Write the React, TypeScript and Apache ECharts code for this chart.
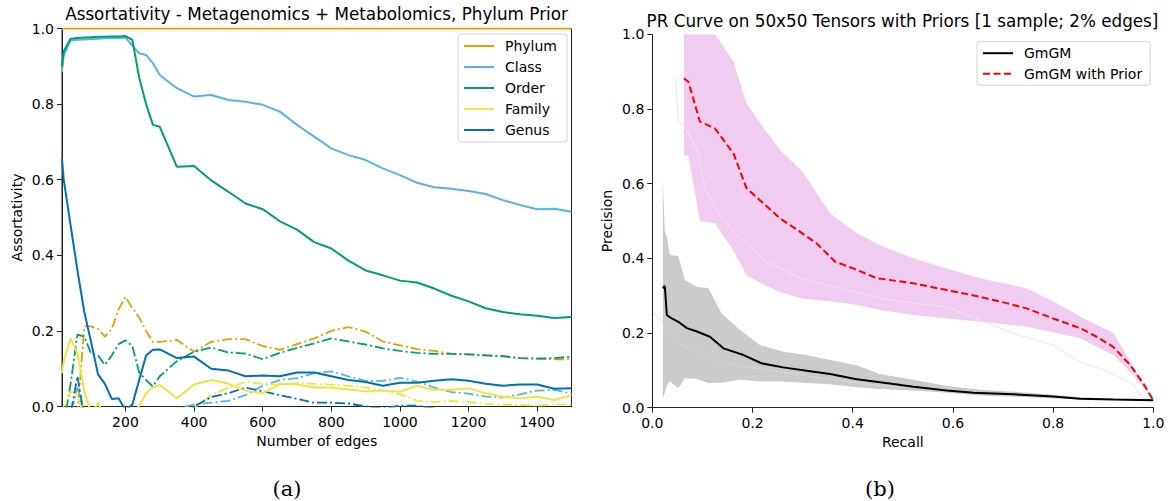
import React, { useEffect, useRef } from 'react';
import * as echarts from 'echarts';

// ---------- Left panel: assortativity vs number of edges ----------
const edges = [15, 20, 40, 60, 80, 100, 120, 140, 160, 180, 200, 220, 240, 260, 280, 300, 350, 400, 450, 500, 550, 600, 650, 700, 750, 800, 850, 900, 950, 1000, 1050, 1100, 1150, 1200, 1250, 1300, 1350, 1400, 1450, 1500];
const edgeTicks = [200, 400, 600, 800, 1000, 1200, 1400];

const phylumPrior = edges.map(() => 1.0);
const classPrior = [0.885, 0.93, 0.968, 0.97, 0.971, 0.972, 0.973, 0.974, 0.975, 0.975, 0.976, 0.955, 0.934, 0.93, 0.908, 0.877, 0.842, 0.82, 0.824, 0.811, 0.806, 0.798, 0.78, 0.745, 0.714, 0.683, 0.665, 0.652, 0.63, 0.612, 0.592, 0.58, 0.576, 0.57, 0.562, 0.546, 0.533, 0.522, 0.523, 0.515];
const orderPrior = [0.9, 0.94, 0.973, 0.975, 0.976, 0.977, 0.978, 0.978, 0.979, 0.979, 0.98, 0.97, 0.87, 0.8, 0.745, 0.74, 0.634, 0.636, 0.598, 0.568, 0.537, 0.522, 0.49, 0.468, 0.435, 0.418, 0.386, 0.36, 0.347, 0.333, 0.328, 0.312, 0.293, 0.278, 0.26, 0.25, 0.244, 0.24, 0.234, 0.237];
const familyPrior = [0.088, 0.12, 0.18, 0.14, 0.04, -0.02, 0.01, -0.03, -0.04, -0.04, -0.03, -0.02, 0.002, 0.035, 0.05, 0.057, 0.022, 0.058, 0.07, 0.06, 0.042, 0.035, 0.06, 0.058, 0.05, 0.05, 0.045, 0.04, 0.042, 0.039, 0.055, 0.044, 0.044, 0.048, 0.035, 0.026, 0.022, 0.026, 0.017, 0.03];
const genusPrior = [0.656, 0.6, 0.48, 0.36, 0.25, 0.17, 0.085, 0.06, 0.02, 0.022, -0.01, 0.005, 0.07, 0.135, 0.15, 0.151, 0.128, 0.132, 0.1, 0.095, 0.08, 0.082, 0.08, 0.09, 0.09, 0.08, 0.07, 0.065, 0.055, 0.063, 0.063, 0.068, 0.072, 0.068, 0.06, 0.055, 0.058, 0.058, 0.047, 0.048];

const phylumBase = [-0.05, -0.05, -0.03, -0.02, 0.212, 0.212, 0.205, 0.185, 0.205, 0.257, 0.29, 0.26, 0.235, 0.2, 0.171, 0.171, 0.176, 0.145, 0.171, 0.178, 0.178, 0.16, 0.15, 0.165, 0.18, 0.2, 0.21, 0.198, 0.172, 0.162, 0.152, 0.147, 0.14, 0.138, 0.136, 0.133, 0.128, 0.126, 0.125, 0.125];
const classBase = [-0.05, -0.04, -0.02, 0.05, -0.02, -0.05, -0.05, -0.05, -0.05, -0.05, -0.05, -0.05, -0.05, -0.04, -0.03, -0.02, -0.005, 0.005, 0.01, 0.015, 0.03, 0.055, 0.07, 0.075, 0.088, 0.093, 0.08, 0.068, 0.068, 0.076, 0.066, 0.05, 0.038, 0.034, 0.026, 0.024, 0.032, 0.042, 0.044, 0.034];
const orderBase = [-0.05, -0.05, 0.06, 0.19, 0.185, 0.14, 0.135, 0.11, 0.135, 0.165, 0.175, 0.16, 0.09, 0.07, 0.053, 0.08, 0.12, 0.145, 0.156, 0.143, 0.14, 0.125, 0.142, 0.155, 0.167, 0.18, 0.172, 0.164, 0.154, 0.147, 0.142, 0.139, 0.139, 0.138, 0.135, 0.133, 0.128, 0.127, 0.128, 0.132];
const familyBase = [-0.02, 0.0, 0.04, 0.03, -0.03, -0.03, -0.03, -0.03, -0.03, -0.03, -0.03, -0.03, -0.03, -0.03, -0.03, -0.03, -0.03, -0.005, 0.03, 0.05, 0.065, 0.06, 0.058, 0.062, 0.06, 0.058, 0.055, 0.05, 0.042, 0.033, 0.015, 0.012, 0.015, 0.012, 0.007, 0.005, 0.004, 0.002, 0.005, 0.005];
const genusBase = [-0.05, -0.05, -0.02, 0.08, -0.03, -0.05, -0.05, -0.05, -0.05, -0.05, -0.05, -0.05, -0.05, -0.05, -0.05, -0.05, -0.02, 0.0, 0.025, 0.035, 0.05, 0.04, 0.03, 0.02, 0.01, 0.01, 0.008, 0.0, -0.005, 0.002, 0.002, -0.005, -0.01, -0.01, -0.01, -0.01, -0.01, -0.01, -0.01, -0.01];

const taxa = ['Phylum', 'Class', 'Order', 'Family', 'Genus'];
const taxaColors = ['#E69F00', '#56B4E9', '#009E73', '#F0E442', '#0072B2'];
const priorSeries = [phylumPrior, classPrior, orderPrior, familyPrior, genusPrior];
const baseSeries = [phylumBase, classBase, orderBase, familyBase, genusBase];

// ---------- Right panel: PR curves ----------
const gmgmRecall = [0.021, 0.025, 0.029, 0.039, 0.052, 0.069, 0.089, 0.115, 0.142, 0.182, 0.218, 0.261, 0.308, 0.355, 0.408, 0.474, 0.521, 0.588, 0.641, 0.72, 0.8, 0.854, 0.92, 1.0];
const gmgmPrecision = [0.32, 0.326, 0.248, 0.239, 0.23, 0.213, 0.204, 0.19, 0.159, 0.141, 0.119, 0.108, 0.099, 0.09, 0.076, 0.065, 0.056, 0.046, 0.04, 0.036, 0.03, 0.024, 0.022, 0.02];

const priorRecall = [0.063, 0.072, 0.095, 0.105, 0.125, 0.162, 0.188, 0.222, 0.255, 0.295, 0.328, 0.365, 0.401, 0.448, 0.521, 0.588, 0.654, 0.707, 0.747, 0.8, 0.854, 0.887, 0.92, 0.954, 0.98, 1.0];
const priorPrecision = [0.882, 0.873, 0.766, 0.76, 0.748, 0.681, 0.588, 0.547, 0.507, 0.471, 0.44, 0.391, 0.373, 0.347, 0.333, 0.315, 0.297, 0.28, 0.266, 0.239, 0.213, 0.19, 0.163, 0.114, 0.065, 0.02];

const grayBandRecall = [0.021, 0.025, 0.029, 0.035, 0.052, 0.065, 0.089, 0.112, 0.138, 0.175, 0.215, 0.261, 0.308, 0.355, 0.408, 0.454, 0.521, 0.588, 0.654, 0.754, 0.854, 1.0];
const grayBandUpper = [0.614, 0.47, 0.458, 0.409, 0.406, 0.342, 0.324, 0.32, 0.253, 0.208, 0.168, 0.15, 0.141, 0.128, 0.114, 0.09, 0.075, 0.058, 0.048, 0.04, 0.028, 0.02];
const grayBandLower = [0.025, 0.04, 0.06, 0.07, 0.052, 0.079, 0.077, 0.066, 0.067, 0.075, 0.07, 0.07, 0.066, 0.063, 0.055, 0.05, 0.046, 0.04, 0.033, 0.028, 0.022, 0.02];

const pinkBandRecall = [0.063, 0.072, 0.095, 0.125, 0.162, 0.188, 0.222, 0.255, 0.3, 0.355, 0.408, 0.461, 0.521, 0.588, 0.654, 0.747, 0.807, 0.854, 0.92, 0.96, 1.0];
const pinkBandUpper = [1.0, 1.0, 1.0, 1.0, 0.927, 0.815, 0.75, 0.69, 0.632, 0.52, 0.467, 0.431, 0.4, 0.373, 0.347, 0.32, 0.28, 0.244, 0.2, 0.11, 0.02];
const pinkBandLower = [0.677, 0.674, 0.5, 0.494, 0.42, 0.355, 0.33, 0.31, 0.292, 0.285, 0.275, 0.26, 0.248, 0.239, 0.23, 0.217, 0.2, 0.186, 0.141, 0.088, 0.02];

const faintGrayRecall = [0.04, 0.047, 0.052, 0.065, 0.092, 0.105, 0.138, 0.168, 0.228, 0.295, 0.388, 0.474, 0.588, 0.72, 0.8, 0.854, 0.92, 0.96, 0.98, 1.0];
const faintGrayPrecision = [0.882, 0.878, 0.766, 0.754, 0.681, 0.588, 0.507, 0.463, 0.391, 0.347, 0.315, 0.288, 0.27, 0.199, 0.168, 0.123, 0.092, 0.061, 0.025, 0.02];
const faintPinkRecall = [0.002, 0.042, 0.062, 0.102, 0.142, 0.208, 0.275, 0.341, 0.474, 0.654, 0.854, 1.0];
const faintPinkPrecision = [0.253, 0.199, 0.163, 0.146, 0.119, 0.105, 0.092, 0.079, 0.056, 0.04, 0.026, 0.02];

const FONT = 'DejaVu Sans';
const zip = (xs: number[], ys: number[]) => xs.map((x, i) => [x, ys[i]]);

function band(xs: number[], up: number[], lo: number[], fill: string, idx: number) {
  return {
    type: 'custom',
    name: 'band' + idx + fill,
    xAxisIndex: idx,
    yAxisIndex: idx,
    silent: true,
    clip: true,
    z: 1,
    data: xs.map((x, i) => [x, up[i], lo[i]]),
    encode: { x: 0, y: [1, 2] },
    renderItem: (params: any, api: any) => {
      if (params.dataIndex !== 0) return null;
      const pts: number[][] = [];
      for (let i = 0; i < xs.length; i++) pts.push(api.coord([xs[i], up[i]]));
      for (let i = xs.length - 1; i >= 0; i--) pts.push(api.coord([xs[i], lo[i]]));
      return { type: 'polygon', shape: { points: pts }, style: { fill, stroke: 'none' } };
    },
  };
}

export default function App() {
  const ref = useRef<HTMLDivElement>(null);
  useEffect(() => {
    const chart = echarts.init(ref.current!, null, { renderer: 'svg' });
    const axisLineStyle = { color: '#222', width: 1 };
    const tickStyle = { show: true, length: 5, lineStyle: { color: '#222', width: 1 } };
    const labelStyle = { fontSize: 14, color: '#000', fontFamily: FONT, margin: 8 };
    const nameStyle = { fontSize: 14, color: '#000', fontFamily: FONT };
    const fmt1 = (v: number) => v.toFixed(1);

    const leftSeries: any[] = [];
    taxa.forEach((t, i) => {
      leftSeries.push({
        type: 'line', name: t + ' (no prior)', xAxisIndex: 0, yAxisIndex: 0,
        data: zip(edges, baseSeries[i]), symbol: 'none', clip: true, z: 3,
        lineStyle: { color: taxaColors[i], width: 1.8, type: [10, 3, 2, 3] },
        itemStyle: { color: taxaColors[i] },
      });
    });
    taxa.forEach((t, i) => {
      leftSeries.push({
        type: 'line', name: t, xAxisIndex: 0, yAxisIndex: 0,
        data: zip(edges, priorSeries[i]), symbol: 'none', clip: true, z: 4,
        lineStyle: { color: taxaColors[i], width: 2 },
        itemStyle: { color: taxaColors[i] },
      });
    });

    const rightSeries: any[] = [
      band(grayBandRecall, grayBandUpper, grayBandLower, '#cbcbcb', 1),
      band(pinkBandRecall, pinkBandUpper, pinkBandLower, '#f0cdf0', 1),
      {
        type: 'line', name: 'faint1', xAxisIndex: 1, yAxisIndex: 1, silent: true,
        data: zip(faintGrayRecall, faintGrayPrecision), symbol: 'none', z: 2,
        lineStyle: { color: '#ebe6eb', width: 1 },
      },
      {
        type: 'line', name: 'faint2', xAxisIndex: 1, yAxisIndex: 1, silent: true,
        data: zip(faintPinkRecall, faintPinkPrecision), symbol: 'none', z: 2,
        lineStyle: { color: '#e8d0d0', width: 0.8 },
      },
      {
        type: 'line', name: 'GmGM', xAxisIndex: 1, yAxisIndex: 1,
        data: zip(gmgmRecall, gmgmPrecision), symbol: 'none', z: 4,
        lineStyle: { color: '#000', width: 2 }, itemStyle: { color: '#000' },
      },
      {
        type: 'line', name: 'GmGM with Prior', xAxisIndex: 1, yAxisIndex: 1,
        data: zip(priorRecall, priorPrecision), symbol: 'none', z: 4,
        lineStyle: { color: '#ff0000', width: 2, type: [7, 3.5] }, itemStyle: { color: '#ff0000' },
      },
    ];

    const legendCommon = {
      orient: 'vertical',
      itemWidth: 30,
      itemHeight: 14,
      backgroundColor: 'rgba(255,255,255,0.8)',
      borderColor: '#d3d3d3',
      borderWidth: 1,
      borderRadius: 3,
      itemStyle: { opacity: 0 },
      textStyle: { fontSize: 14, color: '#000', fontFamily: FONT, padding: [0, 0, 0, 6] },
      inactiveColor: '#000',
      selectedMode: false,
    };

    chart.setOption({
      animation: false,
      backgroundColor: '#fff',
      textStyle: { fontFamily: FONT },
      grid: [
        { left: 62, top: 28.5, width: 509.5, height: 378, show: true, borderColor: '#222', borderWidth: 1, backgroundColor: 'transparent' },
        { left: 652.3, top: 34.3, width: 501, height: 373.4 },
      ],
      xAxis: [
        {
          gridIndex: 0, type: 'value', min: 15, max: 1500,
          splitLine: { show: false },
          axisLine: { show: true, onZero: false, lineStyle: axisLineStyle },
          axisTick: { ...tickStyle, customValues: edgeTicks },
          axisLabel: { ...labelStyle, customValues: edgeTicks, formatter: (v: number) => String(v) },
          name: 'Number of edges', nameLocation: 'middle', nameGap: 27, nameTextStyle: nameStyle,
        },
        {
          gridIndex: 1, type: 'value', min: 0, max: 1, interval: 0.2,
          splitLine: { show: false },
          axisLine: { show: true, onZero: false, lineStyle: axisLineStyle },
          axisTick: tickStyle,
          axisLabel: { ...labelStyle, formatter: fmt1 },
          name: 'Recall', nameLocation: 'middle', nameGap: 25, nameTextStyle: nameStyle,
        },
      ],
      yAxis: [
        {
          gridIndex: 0, type: 'value', min: 0, max: 1, interval: 0.2,
          splitLine: { show: false },
          axisLine: { show: true, onZero: false, lineStyle: axisLineStyle },
          axisTick: tickStyle,
          axisLabel: { ...labelStyle, formatter: fmt1 },
          name: 'Assortativity', nameLocation: 'middle', nameGap: 38, nameTextStyle: nameStyle,
        },
        {
          gridIndex: 1, type: 'value', min: 0, max: 1, interval: 0.2,
          splitLine: { show: false },
          axisLine: { show: true, onZero: false, lineStyle: axisLineStyle },
          axisTick: tickStyle,
          axisLabel: { ...labelStyle, formatter: fmt1 },
          name: 'Precision', nameLocation: 'middle', nameGap: 38, nameTextStyle: nameStyle,
        },
      ],
      legend: [
        { ...legendCommon, data: taxa, left: 458, top: 34, itemGap: 7, padding: [5, 10, 5, 5] },
        { ...legendCommon, data: ['GmGM', 'GmGM with Prior'], left: 977, top: 41.7, itemGap: 6.5, padding: [4.5, 8, 4.5, 5] },
      ],
      graphic: [
        { type: 'text', x: 316.5, y: 13.5, style: { text: 'Assortativity - Metagenomics + Metabolomics, Phylum Prior', fontSize: 16.8, fontFamily: FONT, fill: '#000', align: 'center', verticalAlign: 'middle' } },
        { type: 'text', x: 902.5, y: 20.5, style: { text: 'PR Curve on 50x50 Tensors with Priors [1 sample; 2% edges]', fontSize: 16.8, fontFamily: FONT, fill: '#000', align: 'center', verticalAlign: 'middle' } },
        { type: 'text', x: 287, y: 489, style: { text: '(a)', fontSize: 21, fontFamily: 'DejaVu Serif', fill: '#000', align: 'center', verticalAlign: 'middle' } },
        { type: 'text', x: 880, y: 489, style: { text: '(b)', fontSize: 21, fontFamily: 'DejaVu Serif', fill: '#000', align: 'center', verticalAlign: 'middle' } },
      ],
      series: [...leftSeries, ...rightSeries],
    });
    return () => chart.dispose();
  }, []);
  return <div ref={ref} style={{ position: 'absolute', left: 0, top: 0, width: 1168, height: 501 }} />;
}
